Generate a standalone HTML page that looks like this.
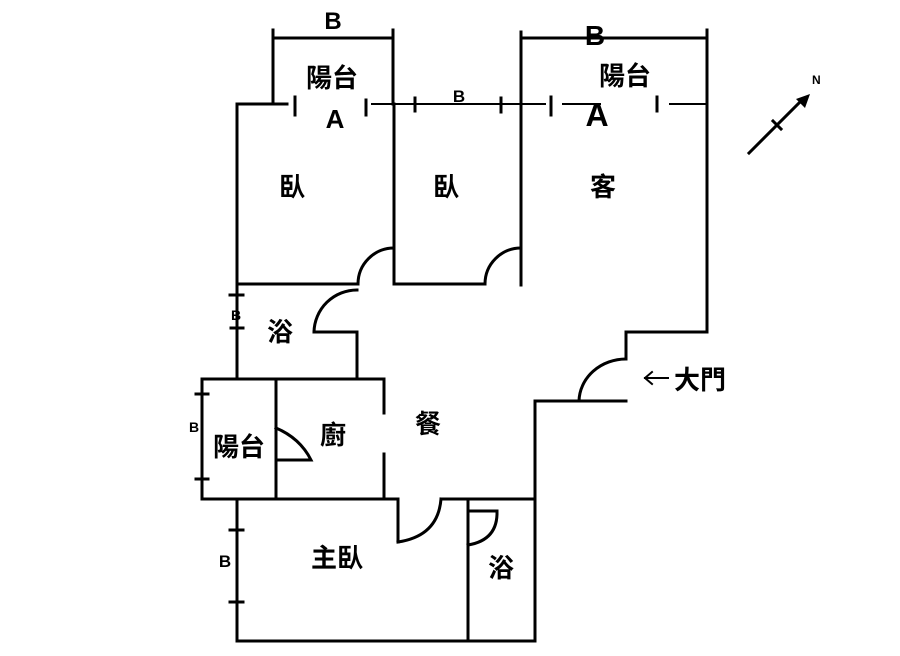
<!DOCTYPE html>
<html><head><meta charset="utf-8"><style>
html,body{margin:0;padding:0;background:#fff;}
svg{display:block;}
text{font-family:"Liberation Sans","Noto Sans CJK TC",sans-serif;fill:#000;}
</style></head><body>
<svg width="900" height="656" viewBox="0 0 900 656" xmlns="http://www.w3.org/2000/svg">
<g stroke="#000" stroke-width="3" fill="none" stroke-linecap="square">
<polyline points="273,104 273,38 393,38 393,104"/>
<line x1="273" y1="30" x2="273" y2="42"/><line x1="393" y1="30" x2="393" y2="44"/>
<polyline points="521,104 521,38 707,38 707,104"/>
<line x1="521" y1="32" x2="521" y2="42"/><line x1="707" y1="30" x2="707" y2="42"/>
<line x1="237" y1="104" x2="287" y2="104"/>
<line x1="372" y1="104" x2="545" y2="104" stroke-width="2"/>
<line x1="563" y1="104" x2="600" y2="104" stroke-width="2"/>
<line x1="670" y1="104" x2="707" y2="104" stroke-width="2"/>
<line x1="295" y1="97" x2="295" y2="115"/><line x1="366" y1="100" x2="366" y2="115"/>
<line x1="415" y1="98" x2="415" y2="111"/><line x1="501" y1="98" x2="501" y2="112"/>
<line x1="551" y1="97" x2="551" y2="115"/><line x1="657" y1="97" x2="657" y2="111"/>
<line x1="237" y1="104" x2="237" y2="379"/>
<line x1="237" y1="499" x2="237" y2="641"/>
<line x1="230" y1="295" x2="243" y2="295"/><line x1="231" y1="328" x2="243" y2="328"/>
<line x1="230" y1="530" x2="243" y2="530"/><line x1="230" y1="602" x2="243" y2="602"/>
<line x1="394" y1="104" x2="394" y2="284"/>
<line x1="521" y1="104" x2="521" y2="285"/>
<line x1="707" y1="104" x2="707" y2="332"/>
<line x1="237" y1="284" x2="358" y2="284"/>
<path d="M358,284 A36,36 0 0 1 394,248"/>
<line x1="394" y1="284" x2="485" y2="284"/>
<path d="M485,284 A36,36 0 0 1 521,248"/>
<path d="M357,290 A43,43 0 0 0 314,332"/>
<polyline points="314,332 357,332 357,379"/>
<line x1="202" y1="379" x2="384" y2="379"/>
<polyline points="202,379 202,499 398,499"/>
<line x1="196" y1="394" x2="208" y2="394"/><line x1="196" y1="479" x2="208" y2="479"/>
<line x1="276" y1="379" x2="276" y2="499"/>
<path d="M276,428 Q300,438 311,460 L276,460"/>
<line x1="384" y1="379" x2="384" y2="413"/>
<line x1="384" y1="454" x2="384" y2="499"/>
<polyline points="398,499 398,542"/>
<path d="M398,542 Q438,536 441,499"/>
<line x1="441" y1="499" x2="535" y2="499"/>
<line x1="468" y1="499" x2="468" y2="641"/>
<polyline points="468,511 497,511"/>
<path d="M497,511 Q498,540 468,545"/>
<line x1="535" y1="401" x2="535" y2="641"/>
<line x1="535" y1="401" x2="626" y2="401"/>
<path d="M579,401 A47,43 0 0 1 626,359"/>
<polyline points="626,359 626,332 707,332"/>
<line x1="237" y1="641" x2="535" y2="641"/>
<line x1="749" y1="153" x2="800" y2="102"/>
<line x1="773" y1="121" x2="781" y2="129"/>
<polyline points="652,372 645,378 652,384" stroke-width="2"/>
<line x1="645" y1="378" x2="668" y2="378" stroke-width="2"/>
</g>
<polygon points="810,94 796,99 805,108" fill="#000"/>
<text x="812" y="84" font-size="12" font-weight="bold">N</text>
<g font-weight="bold">
<text x="333" y="29" font-size="24" text-anchor="middle">B</text>
<text x="595" y="45" font-size="28" text-anchor="middle">B</text>
<text x="459" y="102" font-size="17" text-anchor="middle">B</text>
<text x="335" y="128" font-size="26" text-anchor="middle">A</text>
<text x="597" y="126" font-size="32" text-anchor="middle">A</text>
<text x="236" y="320" font-size="14" text-anchor="middle">B</text>
<text x="194" y="432" font-size="14" text-anchor="middle">B</text>
<text x="225" y="567" font-size="17" text-anchor="middle">B</text>
</g>
<g font-size="26" text-anchor="middle" font-weight="bold">
<text x="332" y="87">陽台</text>
<text x="625" y="85">陽台</text>
<text x="292" y="196">臥</text>
<text x="446" y="196">臥</text>
<text x="603" y="196">客</text>
<text x="280" y="341">浴</text>
<text x="239" y="456">陽台</text>
<text x="333" y="444">廚</text>
<text x="428" y="433">餐</text>
<text x="337" y="567">主臥</text>
<text x="501" y="577">浴</text>
<text x="700" y="389">大門</text>
</g>
</svg>
</body></html>
